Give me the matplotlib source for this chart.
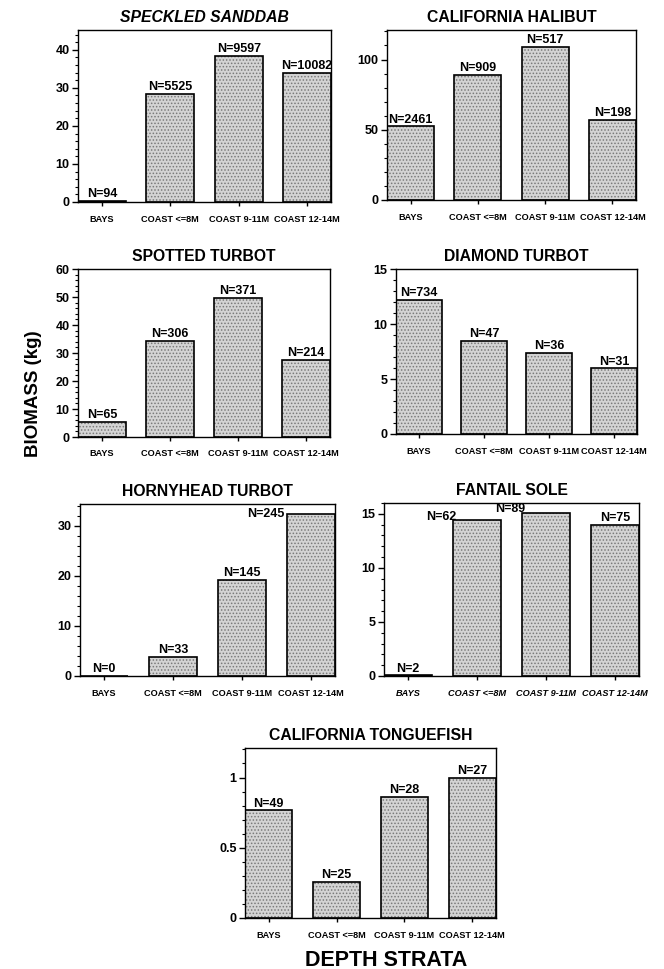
import matplotlib
matplotlib.use('Agg')
import matplotlib.pyplot as plt
from matplotlib.ticker import MultipleLocator, FormatStrFormatter

plt.rcParams['font.family'] = ['Liberation Sans', 'DejaVu Sans']
plt.rcParams['hatch.linewidth'] = 0.7

# depth strata (x categories)
strata = ['BAYS', 'COAST <=8M', 'COAST 9-11M', 'COAST 12-14M']

# biomass (kg) per species
sanddab = [0.2, 28.3, 38.3, 33.9]
sanddab_n = [94, 5525, 9597, 10082]
halibut = [52.4, 89.0, 109.0, 56.7]
halibut_n = [2461, 909, 517, 198]
spotted = [5.5, 34.2, 49.8, 27.6]
spotted_n = [65, 306, 371, 214]
diamond = [12.2, 8.45, 7.4, 5.97]
diamond_n = [734, 47, 36, 31]
hornyhead = [0.0, 3.9, 19.3, 32.4]
hornyhead_n = [0, 33, 145, 245]
fantail = [0.05, 14.4, 15.1, 13.95]
fantail_n = [2, 62, 89, 75]
tonguefish = [0.766, 0.255, 0.862, 0.998]
tonguefish_n = [49, 25, 28, 27]

W, H = 664, 969
fig = plt.figure(figsize=(W / 100, H / 100), dpi=100)


def panel(box, title, vals, ns, ymax, major, minor, fmt='%g',
          title_style='normal', xl_style='normal', label_mode=None):
    x0, y0, x1, y1 = box  # pixel box: left, top, right, bottom
    ax = fig.add_axes([x0 / W, 1 - y1 / H, (x1 - x0) / W, (y1 - y0) / H])
    xs = list(range(len(vals)))
    ax.bar(xs, vals, width=0.7, color='#d4d4d4', edgecolor='#7a7a7a',
           hatch='.....', linewidth=0, zorder=2)
    ax.bar(xs, vals, width=0.7, fill=False, edgecolor='black',
           linewidth=1.2, zorder=3)
    ax.set_xlim(-0.35, 3.35)
    ax.set_ylim(0, ymax)
    ax.yaxis.set_major_locator(MultipleLocator(major))
    ax.yaxis.set_minor_locator(MultipleLocator(minor))
    ax.yaxis.set_major_formatter(FormatStrFormatter(fmt))
    ax.set_xticks(xs)
    ax.set_xticklabels(strata, fontsize=6.6, fontweight='bold', style=xl_style)
    ax.tick_params(axis='y', which='major', direction='out', length=4,
                   width=1, labelsize=9, pad=2)
    ax.tick_params(axis='y', which='minor', direction='out', length=2, width=0.8)
    ax.tick_params(axis='x', direction='out', length=3, width=1, pad=6)
    for lab in ax.get_yticklabels():
        lab.set_fontweight('bold')
    for s in ax.spines.values():
        s.set_linewidth(1.0)
    ax.set_title(title, fontsize=11.3, fontweight='bold', style=title_style, pad=6)
    for i, (v, n) in enumerate(zip(vals, ns)):
        txt = f'N={n}'
        mode = None if label_mode is None else label_mode[i]
        if mode == 'left':
            ax.text(i - 0.3, v - ymax * 0.015, txt, ha='right', va='bottom',
                    fontsize=9, fontweight='bold', zorder=4)
        elif mode == 'leftmid':
            ax.text(i - 0.38, v, txt, ha='right', va='center',
                    fontsize=9, fontweight='bold', zorder=4)
        else:
            ax.text(i, v + ymax * 0.005, txt, ha='center', va='bottom',
                    fontsize=9, fontweight='bold', zorder=4)
    return ax


panel((78, 30, 331, 202), 'SPECKLED SANDDAB', sanddab, sanddab_n, 45.2, 10, 2,
      title_style='italic')
panel((387, 30, 636, 200), 'CALIFORNIA HALIBUT', halibut, halibut_n, 121, 50, 10)
panel((78, 269, 330, 437), 'SPOTTED TURBOT', spotted, spotted_n, 60, 10, 2)
panel((396, 269, 637, 434), 'DIAMOND TURBOT', diamond, diamond_n, 15, 5, 1)
panel((80, 504, 335, 676), 'HORNYHEAD TURBOT', hornyhead, hornyhead_n, 34.4, 10, 2,
      label_mode=[None, None, None, 'leftmid'])
panel((384, 503, 639, 676), 'FANTAIL SOLE', fantail, fantail_n, 16, 5, 1,
      xl_style='italic', label_mode=[None, 'left', 'left', None])
panel((245, 748, 496, 918), 'CALIFORNIA TONGUEFISH', tonguefish, tonguefish_n,
      1.21, 0.5, 0.1)

fig.text(34 / W, 1 - 394 / H, 'BIOMASS (kg)', rotation=90, ha='center',
         va='center', fontsize=13.5, fontweight='bold')
fig.text(386 / W, 1 - 960 / H, 'DEPTH STRATA', ha='center', va='center',
         fontsize=15.5, fontweight='bold')

fig.savefig('out.png', dpi=100)
